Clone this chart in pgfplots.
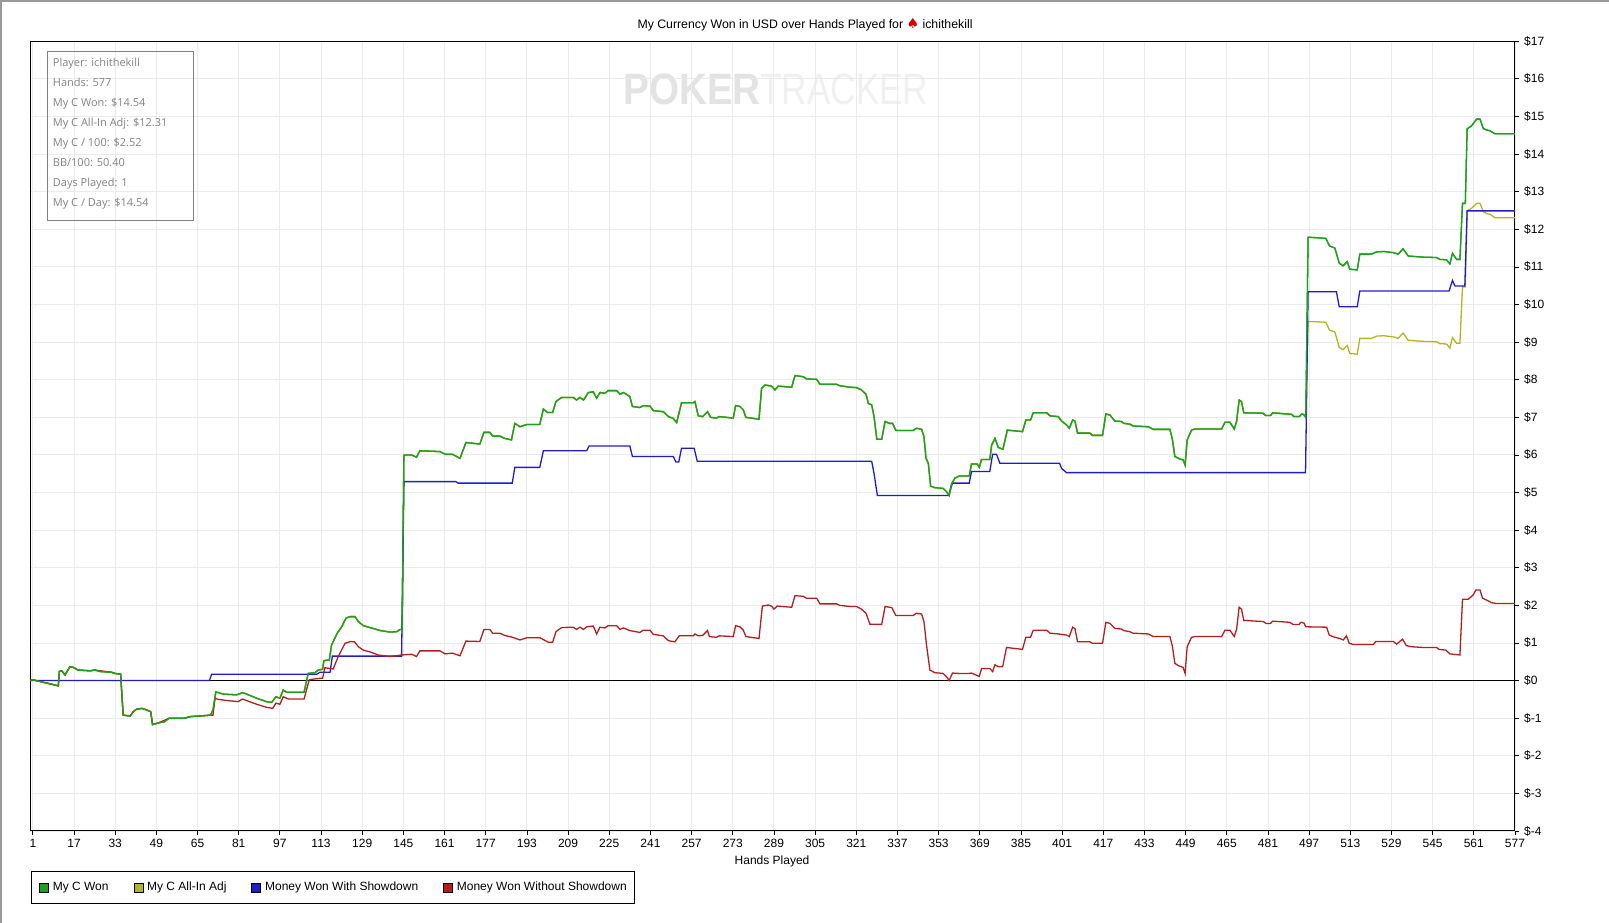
\documentclass[border=0pt]{standalone}
\usepackage{pgfplots}
\pgfplotsset{compat=1.18}
\usepackage{pgfplotstable}
\usepackage{fontspec}
\setmainfont{Liberation Sans}
\newfontfamily\infofont{Open Sans}
\newfontfamily\symfont{DejaVu Sans}
\definecolor{cwon}{RGB}{30,160,30}
\definecolor{cadj}{RGB}{180,180,30}
\definecolor{csd}{RGB}{30,30,200}
\definecolor{cnsd}{RGB}{180,30,30}
\definecolor{gridc}{RGB}{235,235,235}
\definecolor{infoc}{RGB}{130,130,130}

\pgfplotstableread{
x won adj
0 0.00 0.00
1 0.02 0.02
10.9 -0.14 -0.14
11.3 0.24 0.24
12.2 0.26 0.26
13.5 0.15 0.15
15.4 0.37 0.37
16.7 0.35 0.35
18.6 0.28 0.28
23.2 0.26 0.26
25.1 0.28 0.28
27.1 0.24 0.24
31.6 0.22 0.22
32.9 0.19 0.19
35.1 0.17 0.17
36.1 -0.92 -0.92
38.8 -0.94 -0.94
40.0 -0.83 -0.83
41.3 -0.76 -0.76
43.3 -0.74 -0.74
45.2 -0.78 -0.78
46.8 -0.83 -0.83
47.5 -1.17 -1.17
50.0 -1.12 -1.12
52.0 -1.10 -1.10
54.0 -1.00 -1.00
60.0 -1.00 -1.00
62.0 -0.96 -0.96
70.0 -0.92 -0.92
71.0 -0.78 -0.78
72.1 -0.30 -0.30
75.0 -0.36 -0.36
80.2 -0.38 -0.38
82.5 -0.32 -0.32
84.1 -0.36 -0.36
88.0 -0.47 -0.47
91.8 -0.56 -0.56
93.8 -0.58 -0.58
95.5 -0.43 -0.43
97.0 -0.47 -0.47
98.3 -0.25 -0.25
99.6 -0.31 -0.31
106.4 -0.31 -0.31
108.0 0.19 0.19
110.6 0.21 0.21
111.9 0.28 0.28
113.6 0.30 0.30
114.1 0.53 0.53
116.2 0.55 0.55
117.1 0.95 0.95
119.3 1.26 1.26
121.0 1.43 1.43
122.7 1.66 1.66
124.2 1.70 1.70
126.2 1.70 1.70
127.5 1.57 1.57
129.4 1.46 1.46
132.0 1.41 1.41
136.0 1.33 1.33
139.8 1.29 1.29
142.4 1.30 1.30
143.7 1.36 1.36
144.5 1.36 1.36
145.2 6.00 6.00
148.2 6.00 6.00
150.1 5.94 5.94
151.4 6.11 6.11
159.2 6.09 6.09
161.2 6.02 6.02
164.0 6.02 6.02
167.0 5.91 5.91
169.3 6.33 6.33
174.7 6.29 6.29
176.3 6.60 6.60
178.6 6.60 6.60
179.7 6.50 6.50
182.5 6.50 6.50
184.4 6.44 6.44
187.0 6.40 6.40
188.3 6.84 6.84
190.3 6.75 6.75
193.0 6.81 6.81
198.0 6.81 6.81
199.4 7.22 7.22
201.0 7.13 7.13
203.0 7.13 7.13
204.3 7.42 7.42
206.5 7.53 7.53
211.0 7.53 7.53
212.3 7.46 7.46
213.6 7.53 7.53
215.0 7.46 7.46
216.9 7.66 7.66
218.8 7.68 7.68
220.1 7.51 7.51
221.4 7.66 7.66
223.3 7.64 7.64
224.6 7.71 7.71
227.9 7.71 7.71
229.2 7.61 7.61
230.5 7.66 7.66
231.8 7.61 7.61
233.0 7.55 7.55
234.0 7.29 7.29
236.9 7.26 7.26
238.2 7.31 7.31
240.8 7.30 7.30
242.1 7.18 7.18
246.0 7.15 7.15
248.0 7.02 7.02
249.9 6.97 6.97
251.2 6.86 6.86
253.1 7.39 7.39
257.7 7.39 7.39
258.3 7.42 7.42
259.6 7.04 7.04
261.3 7.02 7.02
263.2 7.15 7.15
264.4 7.00 7.00
266.7 6.98 6.98
267.7 7.02 7.02
273.2 6.98 6.98
274.1 7.31 7.31
275.8 7.29 7.29
277.1 7.20 7.20
278.1 7.00 7.00
283.2 6.95 6.95
284.2 7.77 7.77
285.5 7.86 7.86
288.1 7.83 7.83
289.4 7.73 7.73
290.7 7.83 7.83
295.9 7.80 7.80
296.5 7.95 7.95
297.2 8.11 8.11
300.4 8.08 8.08
301.7 8.02 8.02
305.6 8.01 8.01
306.9 7.88 7.88
313.3 7.88 7.88
314.6 7.84 7.84
318.6 7.80 7.80
321.1 7.79 7.79
323.0 7.73 7.73
324.8 7.61 7.61
325.7 7.37 7.37
327.0 7.33 7.33
327.9 7.02 7.02
329.0 6.42 6.42
330.9 6.42 6.42
332.2 6.89 6.89
333.8 6.84 6.84
335.1 6.84 6.84
336.4 6.65 6.65
343.1 6.65 6.65
344.4 6.71 6.71
346.4 6.68 6.68
347.3 6.49 6.49
348.1 5.91 5.91
349.0 5.78 5.78
349.9 5.17 5.17
351.6 5.13 5.13
354.8 5.11 5.11
356.1 5.02 5.02
357.1 4.92 4.92
358.0 5.22 5.22
359.3 5.38 5.38
361.0 5.44 5.44
364.9 5.44 5.44
365.8 5.76 5.76
368.0 5.76 5.76
368.8 5.67 5.67
369.7 5.88 5.88
372.9 5.88 5.88
373.6 6.26 6.26
374.9 6.44 6.44
376.2 6.20 6.20
378.0 6.15 6.15
379.7 6.66 6.66
385.6 6.62 6.62
386.9 6.93 6.93
388.7 6.93 6.93
389.8 7.12 7.12
395.0 7.12 7.12
396.3 7.04 7.04
399.5 7.02 7.02
400.8 6.90 6.90
402.7 6.80 6.80
403.8 6.71 6.71
405.1 6.93 6.93
406.0 6.90 6.90
407.0 6.58 6.58
411.8 6.58 6.58
412.8 6.52 6.52
416.7 6.52 6.52
418.0 7.09 7.09
419.6 7.06 7.06
421.5 6.90 6.90
424.1 6.89 6.89
424.9 6.84 6.84
427.3 6.82 6.82
428.6 6.77 6.77
434.5 6.75 6.75
436.4 6.68 6.68
442.9 6.68 6.68
443.9 6.40 6.40
444.8 5.96 5.96
446.8 5.89 5.89
448.0 5.87 5.87
448.8 5.73 5.73
449.6 6.40 6.40
451.3 6.66 6.66
452.6 6.69 6.69
463.0 6.69 6.69
464.3 6.87 6.87
466.2 6.87 6.87
467.9 6.69 6.69
468.8 6.89 6.89
469.8 7.46 7.46
470.7 7.42 7.42
471.6 7.12 7.12
479.1 7.11 7.11
480.0 7.05 7.05
482.0 7.05 7.05
482.8 7.12 7.12
490.2 7.08 7.08
491.1 7.02 7.02
493.2 7.02 7.02
494.1 7.09 7.09
495.0 7.07 7.07
495.7 7.00 7.00
496.6 11.79 9.55
503.5 11.76 9.53
504.9 11.56 9.32
507.0 11.50 9.27
508.7 11.10 8.86
510.2 11.03 8.80
511.8 11.14 8.91
512.8 10.94 8.70
515.7 10.92 8.68
516.7 11.34 9.10
521.2 11.34 9.10
523.2 11.40 9.16
526.0 11.41 9.17
529.7 11.38 9.14
531.6 11.34 9.10
533.5 11.48 9.24
535.5 11.29 9.05
541.3 11.26 9.02
546.5 11.25 9.01
547.8 11.20 8.96
550.4 11.19 8.95
551.7 11.08 8.84
552.7 11.36 9.12
554.3 11.20 8.97
555.6 11.20 8.97
556.6 12.69 10.47
557.7 12.69 10.47
558.4 14.67 12.49
560.1 14.75 12.56
562.1 14.93 12.69
563.4 14.93 12.69
564.7 14.68 12.47
566.0 14.64 12.42
567.3 14.62 12.40
569.2 14.54 12.31
577.0 14.54 12.31
}\wontable

\pgfplotstableread{
x y
0 0
69.6 0
70.5 0.17
111.3 0.17
112.6 0.22
116.5 0.22
117.4 0.65
144.3 0.65
145.2 5.29
165.4 5.29
166.3 5.25
187.3 5.25
188.3 5.67
198.0 5.67
199.4 6.11
216.2 6.11
217.2 6.24
233.0 6.24
234.0 5.96
249.9 5.96
250.9 5.81
252.0 5.81
253.1 6.18
258.0 6.18
259.2 5.83
327.0 5.83
327.9 5.51
329.2 4.92
356.8 4.92
358.4 5.25
364.9 5.25
365.8 5.56
372.9 5.56
374.0 6.02
375.5 6.02
376.8 5.78
400.0 5.78
400.8 5.64
402.7 5.53
495.6 5.53
496.6 10.34
507.6 10.34
508.7 9.94
515.7 9.94
516.7 10.36
551.4 10.36
552.7 10.64
553.7 10.49
557.5 10.49
558.4 12.49
577 12.49
}\sdtable

\pgfplotstableread{
x y
0 0.00
1 0.02
10.9 -0.14
11.3 0.24
12.2 0.26
13.5 0.15
15.4 0.37
16.7 0.35
18.6 0.28
23.2 0.26
25.1 0.28
31.6 0.22
32.9 0.19
35.1 0.17
36.1 -0.92
38.8 -0.94
40.0 -0.83
41.3 -0.76
43.3 -0.74
45.2 -0.78
46.8 -0.83
47.5 -1.17
50.0 -1.12
54.0 -1.00
60.0 -1.00
62.0 -0.96
70.0 -0.92
71.0 -0.92
71.8 -0.47
73.0 -0.50
76.3 -0.53
80.8 -0.56
82.5 -0.49
84.0 -0.53
88.0 -0.63
91.8 -0.71
94.2 -0.74
95.5 -0.60
97.0 -0.63
98.3 -0.43
100.3 -0.49
106.4 -0.49
108.4 0.02
110.0 0.04
112.6 0.06
113.6 0.06
114.5 0.34
117.7 0.31
119.7 0.64
122.3 0.99
124.5 1.04
126.0 1.03
127.5 0.90
129.4 0.81
132.6 0.75
135.2 0.68
139.8 0.64
144.3 0.68
148.2 0.70
150.1 0.64
151.4 0.79
159.2 0.79
161.2 0.71
164.0 0.73
167.0 0.66
169.3 1.05
174.7 1.04
176.3 1.36
178.6 1.36
179.7 1.26
182.5 1.26
184.4 1.20
187.5 1.15
190.3 1.08
193.0 1.14
198.0 1.14
201.3 1.02
203.0 1.02
204.3 1.30
206.5 1.41
211.0 1.42
212.3 1.36
213.6 1.42
215.0 1.36
216.2 1.43
218.8 1.45
220.1 1.24
221.4 1.42
223.3 1.40
224.6 1.46
227.9 1.46
229.2 1.36
230.5 1.40
233.0 1.33
236.9 1.28
238.2 1.34
240.8 1.34
242.1 1.23
246.0 1.19
248.0 1.06
250.5 1.03
252.2 1.19
257.7 1.19
258.3 1.24
259.6 1.19
261.3 1.20
263.2 1.33
263.9 1.17
266.7 1.15
267.7 1.19
273.2 1.17
274.1 1.46
275.8 1.43
277.1 1.34
278.1 1.17
283.2 1.12
284.5 1.98
286.8 2.01
288.1 1.98
289.0 1.90
290.3 1.98
295.9 1.95
297.2 2.26
300.4 2.24
301.7 2.19
305.6 2.19
306.9 2.04
313.3 2.04
314.6 2.00
318.6 1.97
321.1 1.97
323.0 1.90
324.8 1.79
326.3 1.50
330.9 1.50
332.2 1.97
334.8 1.94
336.4 1.73
343.1 1.73
344.4 1.79
346.4 1.77
347.3 1.57
348.3 0.95
349.6 0.28
351.6 0.21
354.8 0.19
356.1 0.10
357.1 0.00
358.4 0.20
361.0 0.19
364.9 0.19
365.8 0.20
368.8 0.11
369.7 0.32
372.9 0.32
374.0 0.24
374.9 0.42
376.2 0.37
377.9 0.37
379.4 0.88
385.6 0.83
386.9 1.15
388.7 1.15
389.8 1.34
395.0 1.34
396.3 1.26
399.5 1.24
402.7 1.21
403.8 1.17
405.1 1.42
406.0 1.38
407.0 1.03
411.8 1.03
412.8 0.99
416.7 0.99
418.0 1.55
419.6 1.52
421.5 1.39
424.1 1.37
424.9 1.33
427.3 1.30
428.6 1.26
434.5 1.24
436.4 1.17
442.9 1.17
443.9 0.90
444.8 0.46
446.1 0.40
448.0 0.35
448.8 0.19
449.6 0.90
451.3 1.15
452.6 1.17
463.0 1.17
464.3 1.34
466.2 1.34
467.9 1.17
468.8 1.36
469.8 1.95
470.7 1.90
471.6 1.60
479.2 1.57
480.2 1.52
482.0 1.52
482.8 1.58
489.5 1.55
490.8 1.49
493.0 1.49
493.8 1.55
495.0 1.53
495.7 1.43
503.8 1.42
504.8 1.21
507.0 1.15
508.9 1.12
510.3 1.08
511.5 1.19
512.6 0.99
514.1 0.96
521.9 0.96
522.9 1.04
529.7 1.04
531.0 0.97
533.3 1.10
534.8 0.93
536.8 0.90
541.3 0.88
546.5 0.88
547.5 0.83
550.1 0.81
551.7 0.71
555.6 0.68
556.6 2.16
558.8 2.16
560.8 2.28
561.8 2.41
563.4 2.41
564.4 2.19
566.0 2.14
567.9 2.07
569.9 2.05
577.0 2.05
}\nsdtable

\begin{document}
\begin{tikzpicture}[x=1pt,y=1pt]
\path[use as bounding box] (0,0) rectangle (1609,923);
\fill[black!40] (0,0) rectangle (1.6,923);
\fill[black!40] (0,921.4) rectangle (1609,923);
% watermark
\node[anchor=base west, inner sep=0pt, text=black!11] at (623,818)
  {\scalebox{0.88}[1]{\fontsize{44}{44}\selectfont\bfseries POKER}};
\node[anchor=base west, inner sep=0pt, text=black!6] at (760,818)
  {\scalebox{0.80}[1]{\fontsize{44}{44}\selectfont TRACKER}};
\begin{axis}[
  at={(30.3pt,92pt)}, anchor=south west,
  width=1484.7pt, height=789.7pt, scale only axis,
  xmin=0, xmax=577, ymin=-4, ymax=17,
  xtick={1,17,...,577},
  ytick={-4,-3,...,17},
  yticklabels={\$-4,\$-3,\$-2,\$-1,\$0,\$1,\$2,\$3,\$4,\$5,\$6,\$7,\$8,\$9,\$10,\$11,\$12,\$13,\$14,\$15,\$16,\$17},
  /pgf/number format/assume math mode=true,
  xtick pos=left, ytick pos=right, yticklabel pos=right,
  tick align=outside, major tick length=4pt,
  tick style={black, line width=0.8pt},
  axis line style={black, line width=1pt},
  grid=major, major grid style={gridc, line width=0.9pt},
  tick label style={font=\fontsize{12}{14}\selectfont, inner sep=0pt},
  xticklabel style={anchor=north, text height=9pt, text depth=0pt, yshift=-3pt},
  yticklabel style={xshift=5pt},
  xlabel={Hands Played},
  xlabel style={at={(axis description cs:0.4996,-0.038)}, anchor=center, font=\fontsize{12}{14}\selectfont},
  legend columns=4,
  legend cell align=left,
  legend style={at={(axis description cs:0.0003,-0.0507)}, anchor=north west,
    draw=black, line width=0.8pt, fill=white,
    inner xsep=8pt, inner ysep=10pt,
    font=\fontsize{12}{14}\selectfont,
    nodes={inner sep=0pt, text height=9pt, text depth=3pt},
    /tikz/every odd column/.append style={column sep=4pt},
    /tikz/every even column/.append style={column sep=25pt}},
]
\addplot[black, line width=1pt, forget plot] coordinates {(0,0) (577,0)};
\addplot[cwon, line width=1.3pt,
  legend image code/.code={\draw[draw=black, fill=cwon, line width=0.6pt] (0pt,-4.5pt) rectangle (9pt,4.5pt);}]
  table[x=x, y=won] {\wontable};
\addlegendentry{My C Won}
\addplot[cadj, line width=1.3pt,
  legend image code/.code={\draw[draw=black, fill=cadj, line width=0.6pt] (0pt,-4.5pt) rectangle (9pt,4.5pt);}]
  table[x=x, y=adj] {\wontable};
\addlegendentry{My C All-In Adj}
\addplot[csd, line width=1.3pt,
  legend image code/.code={\draw[draw=black, fill=csd, line width=0.6pt] (0pt,-4.5pt) rectangle (9pt,4.5pt);}]
  table[x=x, y=y] {\sdtable};
\addlegendentry{Money Won With Showdown}
\addplot[cnsd, line width=1.3pt,
  legend image code/.code={\draw[draw=black, fill=cnsd, line width=0.6pt] (0pt,-4.5pt) rectangle (9pt,4.5pt);}]
  table[x=x, y=y] {\nsdtable};
\addlegendentry{Money Won Without Showdown}
\addplot[cwon, line width=1.3pt, forget plot] table[x=x, y=won] {\wontable};
\node[rotate=-90, font=\fontsize{12}{14}\selectfont] at (axis description cs:1.0283,0.5002) {\$};
\end{axis}
% title
\node[anchor=base, inner sep=0pt, font=\fontsize{12.3}{14}\selectfont] at (805,894.7)
  {My Currency Won in USD over Hands Played for {\symfont\fontsize{14}{14}\selectfont\color{red!85!black}♠} ichithekill};
% info box
\draw[black!50, line width=0.9pt] (47.3,702.7) rectangle (193.7,871.7);
\begin{scope}[every node/.style={anchor=base west, inner sep=0pt, text=infoc, font=\infofont\fontsize{11}{13}\selectfont}]
\node at (52.7,856.0) {Player: ichithekill};
\node at (52.7,836.0) {Hands: 577};
\node at (52.7,816.0) {My C Won: \$14.54};
\node at (52.7,796.0) {My C All-In Adj: \$12.31};
\node at (52.7,776.0) {My C / 100: \$2.52};
\node at (52.7,756.0) {BB/100: 50.40};
\node at (52.7,736.0) {Days Played: 1};
\node at (52.7,716.0) {My C / Day: \$14.54};
\end{scope}
\end{tikzpicture}
\end{document}
